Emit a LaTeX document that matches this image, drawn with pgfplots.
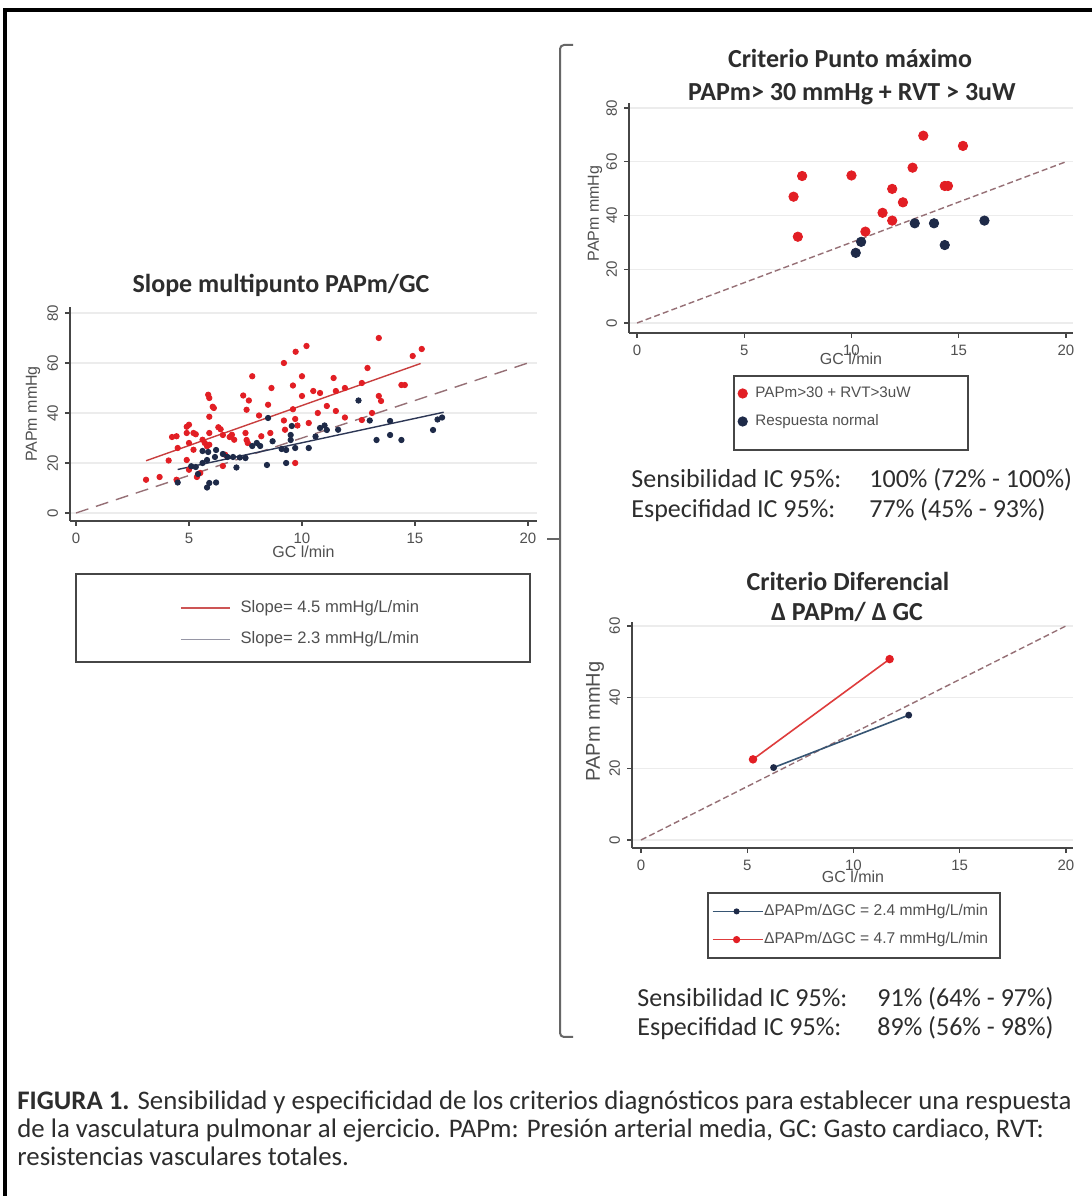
\documentclass[border=0pt]{standalone}
\usepackage{fontspec}
\setmainfont{Carlito}
\newfontfamily\arial{Liberation Sans}
\usepackage{pgfplots}
\pgfplotsset{compat=1.18}

\definecolor{ptred}{RGB}{226,30,36}
\definecolor{ptnavy}{RGB}{30,42,72}
\definecolor{fitred}{RGB}{200,62,62}
\definecolor{fitnavy}{RGB}{45,55,85}
\definecolor{refline}{RGB}{150,112,118}
\definecolor{axcol}{RGB}{70,70,70}
\definecolor{txt}{RGB}{45,45,45}
\definecolor{lblcol}{RGB}{80,80,80}
\definecolor{gridcol}{RGB}{236,236,236}
\definecolor{legred}{RGB}{205,85,85}
\definecolor{leggray}{RGB}{150,150,165}
\definecolor{brred}{RGB}{222,60,60}
\definecolor{brnavy}{RGB}{55,85,115}

\pgfplotsset{
  stata/.style={
    scale only axis,
    axis lines=left,
    axis line style={axcol, line width=0.6pt, -},
    tick align=outside,
    major tick length=2.5pt,
    tick style={axcol, line width=0.6pt},
    ymajorgrids,
    grid style={gridcol, line width=0.6pt},
    ticklabel style={font=\arial\fontsize{7.5}{9}\selectfont, text=lblcol},
    /pgf/number format/assume math mode=true,
    yticklabel style={rotate=90, anchor=south},
    label style={font=\arial\fontsize{8}{10}\selectfont, text=lblcol},
    xtick={0,5,10,15,20},
    clip=false,
    legend cell align=left,
  }
}

\begin{document}
\begin{tikzpicture}[x=0.5pt,y=0.5pt]
\useasboundingbox (0,0) rectangle (1092,1196);
\fill[white] (0,0) rectangle (1092,1196);
% outer frame (top and left)
\draw[line width=2.2pt, black] (5,0) -- (5,1186) -- (1092,1186);

% ---------------- Left plot ----------------
\begin{axis}[stata, at={(35pt,337.5pt)}, anchor=south west,
  width=233.5pt, height=107pt,
  xmin=-0.265, xmax=20.4, ymin=-3.2, ymax=82.4,
  ytick={0,20,40,60,80},
  xlabel={GC l/min}, ylabel={PAPm mmHg},
  xlabel style={at={(axis description cs:0.5,-0.145)}, anchor=center},
  ylabel style={at={(axis description cs:-0.079,0.5)}, anchor=center},
  legend style={at={(axis description cs:0.2355,-0.4813)}, anchor=west,
    draw=none, fill=none, inner sep=0pt, outer sep=0pt,
    row sep=8pt, column sep=5pt,
    font=\arial\fontsize{8.3}{10}\selectfont, text=lblcol,
    nodes={inner sep=0pt, text height=6pt, text depth=1.7pt}},
  legend image code/.code={\draw[#1] (0pt,0pt) -- (24.5pt,0pt);},
]
\addlegendimage{legred, line width=0.8pt}
\addlegendentry{Slope= 4.5 mmHg/L/min}
\addlegendimage{leggray, line width=0.8pt}
\addlegendentry{Slope= 2.3 mmHg/L/min}
\addplot[refline, line width=0.7pt, dash pattern=on 6.5pt off 4pt, forget plot]
  coordinates {(0,0) (20,60)};
\addplot[only marks, mark=*, mark size=1.35pt, ptred, forget plot] coordinates {
(3.1,13.3) (3.7,14.4) (4.1,21) (4.25,30.4) (4.45,30.7) (4.5,26) (4.45,13.3)
(4.9,34.5) (5.0,35.3) (4.9,32) (5.0,28) (4.9,21.2) (5.0,17.3) (5.2,32) (5.3,31.5)
(5.2,25.3) (5.35,14.4) (5.5,16) (5.6,29.3) (5.7,28) (5.8,26.7) (5.85,47.3) (5.9,46)
(5.9,38.5) (6.05,42.5) (5.9,32) (5.9,27.3) (6.1,42) (6.3,34.3) (6.4,33.5) (6.5,31.2)
(6.5,18.8) (6.6,23.3) (6.8,30.4) (6.9,31.3) (7.0,29.3) (7.4,47) (7.5,32) (7.55,29.2)
(7.6,28) (7.55,41.3) (7.65,45) (7.8,54.7) (8.1,39) (8.2,30.7) (8.5,43.3) (8.6,32)
(8.65,50) (9.2,60) (9.2,37) (9.25,33.3) (9.6,41.5) (9.6,51) (9.72,64.5) (9.7,20)
(9.7,37.6) (9.8,35) (10.0,54.7) (10.0,46.8) (10.2,66.8) (10.3,36) (10.5,48.8)
(10.8,48) (10.7,40) (11.1,42.8) (11.4,54) (11.5,40.8) (11.5,48.8) (11.9,38.2)
(11.9,50) (12.65,52) (12.65,37.2) (12.9,58) (13.1,40) (13.4,70) (13.4,46.8)
(13.5,44.8) (14.4,51.2) (14.55,51.2) (14.9,62.8) (15.3,65.6)};
\addplot[only marks, mark=*, mark size=1.35pt, ptnavy, forget plot] coordinates {
(4.5,12.2) (5.1,18.7) (5.3,18.4) (5.4,15.6) (5.6,24.8) (5.6,20) (5.8,21.2)
(5.85,24.4) (5.8,10.2) (5.9,12) (6.2,12.2) (6.15,22.4) (6.2,25.2) (6.5,23.6)
(6.7,22.4) (6.95,22.4) (7.1,18.2) (7.25,22.2) (7.5,22) (7.8,26.8) (8.0,28)
(8.15,26.8) (8.45,19.2) (8.5,38) (8.7,28.7) (9.1,25.6) (9.3,25.2) (9.3,20)
(9.5,29.2) (9.5,31.2) (9.55,34.8) (9.7,26) (10.3,26) (10.6,30.6) (10.8,34)
(11.0,35) (11.1,33.2) (11.6,33.3) (12.5,45) (13.0,37) (13.3,29.2) (13.9,31.2)
(13.9,36.8) (14.4,29.2) (15.8,33.2) (16.0,37.4) (16.2,38.2)};
\addplot[fitred, line width=0.7pt, forget plot] coordinates {(3.1,20.9) (15.25,59.8)};
\addplot[fitnavy, line width=0.7pt, forget plot] coordinates {(4.5,17.4) (16.27,40.3)};
\end{axis}

% ---------------- Top right plot ----------------
\begin{axis}[stata, at={(314.5pt,431.5pt)}, anchor=south west,
  width=222pt, height=115pt,
  xmin=-0.373, xmax=20.33, ymin=-3.72, ymax=81.86,
  ytick={0,20,40,60,80},
  xlabel={GC l/min}, ylabel={PAPm mmHg},
  xlabel style={at={(axis description cs:0.5,-0.113)}, anchor=center},
  ylabel style={at={(axis description cs:-0.0766,0.52)}, anchor=center},
  legend style={at={(axis description cs:0.2455,-0.3239)}, anchor=west,
    draw=none, fill=none, inner sep=0pt, outer sep=0pt,
    row sep=6.8pt, column sep=4pt,
    font=\arial\fontsize{7.6}{9}\selectfont, text=lblcol,
    nodes={inner sep=0pt, text height=5.6pt, text depth=1.6pt}},
  legend image code/.code={\draw[#1] plot coordinates {(2.4pt,0pt)};},
]
\addlegendimage{only marks, mark=*, mark size=2.35pt, ptred}
\addlegendentry{PAPm>30 + RVT>3uW}
\addlegendimage{only marks, mark=*, mark size=2.35pt, ptnavy}
\addlegendentry{Respuesta normal}
\addplot[refline, line width=0.7pt, dash pattern=on 3pt off 1.6pt, forget plot]
  coordinates {(0,0) (20,60)};
\addplot[only marks, mark=*, mark size=2.35pt, ptred, forget plot] coordinates {
(7.3,47) (7.5,32.1) (7.7,54.7) (10.0,54.9) (10.65,34) (11.45,41) (11.9,49.9)
(11.9,38.1) (12.4,44.9) (12.85,57.8) (13.35,69.7) (14.35,51) (14.5,51) (15.2,65.9)};
\addplot[only marks, mark=*, mark size=2.35pt, ptnavy, forget plot] coordinates {
(10.2,26.1) (10.45,30.2) (12.95,37.1) (13.85,37.1) (14.35,29) (16.2,38.1)};
\end{axis}

% ---------------- Bottom right plot ----------------
\begin{axis}[stata, at={(316pt,174pt)}, anchor=south west,
  width=220.5pt, height=113pt,
  xmin=-0.424, xmax=20.33, ymin=-2.24, ymax=61.1,
  ytick={0,20,40,60},
  xlabel={GC l/min}, ylabel={PAPm mmHg},
  xlabel style={at={(axis description cs:0.501,-0.128)}, anchor=center},
  ylabel style={at={(axis description cs:-0.084,0.56)}, anchor=center,
    font=\arial\fontsize{10}{12}\selectfont},
  legend style={at={(axis description cs:0.1814,-0.343)}, anchor=west,
    draw=none, fill=none, inner sep=0pt, outer sep=0pt,
    row sep=6.8pt, column sep=0.5pt,
    font=\arial\fontsize{7.8}{9}\selectfont, text=lblcol,
    nodes={inner sep=0pt, text height=5.7pt, text depth=1.6pt}},
  legend image code/.code={\draw[mark repeat=2, mark phase=2, #1] plot coordinates {(0pt,0pt) (12pt,0pt) (25pt,0pt)};},
]
\addlegendimage{brnavy, line width=0.6pt, mark=*, mark size=1.2pt, mark options={ptnavy}}
\addlegendentry{ΔPAPm/ΔGC = 2.4 mmHg/L/min}
\addlegendimage{brred, line width=0.6pt, mark=*, mark size=1.5pt, mark options={ptred}}
\addlegendentry{ΔPAPm/ΔGC = 4.7 mmHg/L/min}
\addplot[refline, line width=0.7pt, dash pattern=on 3pt off 1.6pt, forget plot]
  coordinates {(0,0) (20,60)};
\addplot[brred, line width=0.8pt, mark=*, mark size=1.7pt, mark options={ptred}, forget plot]
  coordinates {(5.27,22.6) (11.7,50.7)};
\addplot[brnavy, line width=0.8pt, mark=*, mark size=1.3pt, mark options={ptnavy}, forget plot]
  coordinates {(6.24,20.3) (12.6,35.0)};
\end{axis}

% legend frames
\draw[axcol, line width=0.8pt] (76,622) rectangle (530,534);
\draw[axcol, line width=0.8pt] (734,820) rectangle (968,746);
\draw[axcol, line width=0.8pt] (708,303) rectangle (1000,238);

% titles
\node[anchor=base, font=\bfseries\fontsize{13}{15}\selectfont, text=txt, inner sep=0pt] at (281,903) {Slope multipunto PAPm/GC};
\node[anchor=base, font=\bfseries\fontsize{13}{15}\selectfont, text=txt, inner sep=0pt] at (850,1128) {Criterio Punto máximo};
\node[anchor=base, font=\bfseries\fontsize{13}{15}\selectfont, text=txt, inner sep=0pt] at (852,1095) {PAPm> 30 mmHg + RVT > 3uW};
\node[anchor=base, font=\bfseries\fontsize{13}{15}\selectfont, text=txt, inner sep=0pt] at (848,605) {Criterio Diferencial};
\node[anchor=base, font=\bfseries\fontsize{13}{15}\selectfont, text=txt, inner sep=0pt] at (847,575) {Δ PAPm/ Δ GC};

% statistics
\begin{scope}[every node/.style={anchor=base west, font=\fontsize{13}{15}\selectfont, text=txt, inner sep=0pt}]
\node at (631,708) {Sensibilidad IC 95\%:};
\node at (869,708) {100\% (72\% - 100\%)};
\node at (631,678) {Especifidad IC 95\%:};
\node at (869,678) {77\% (45\% - 93\%)};
\node at (637,189) {Sensibilidad IC 95\%:};
\node at (877,189) {91\% (64\% - 97\%)};
\node at (637,160) {Especifidad IC 95\%:};
\node at (877,160) {89\% (56\% - 98\%)};
\end{scope}

% bracket
\draw[black!60, line width=1pt, rounded corners=2pt] (573,1151) -- (560,1151) -- (560,159) -- (573,159);
\draw[black!60, line width=1pt] (547,657) -- (560,657);

% caption
\begin{scope}[every node/.style={anchor=base west, font=\fontsize{13.4}{15}\selectfont, text=txt, inner sep=0pt}]
\node at (17,86) {\textbf{FIGURA 1.} Sensibilidad y especificidad de los criterios diagnósticos para establecer una respuesta};
\node at (17,58) {de la vasculatura pulmonar al ejercicio. PAPm: Presión arterial media, GC: Gasto cardiaco, RVT:};
\node at (17,31) {resistencias vasculares totales.};
\end{scope}
\end{tikzpicture}
\end{document}
